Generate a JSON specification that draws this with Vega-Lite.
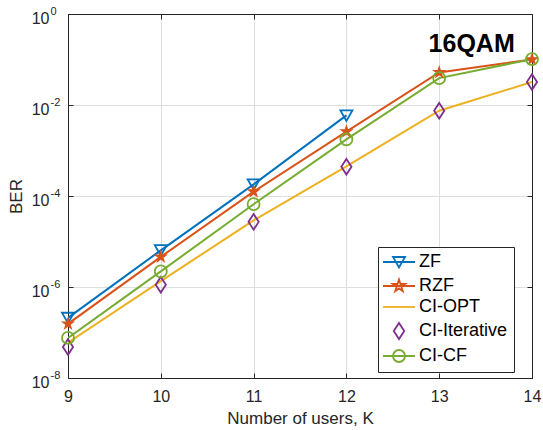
{
  "$schema": "https://vega.github.io/schema/vega-lite/v6.json",
  "autosize": "none",
  "width": 464,
  "height": 364,
  "padding": {"left": 68, "top": 14, "right": 11, "bottom": 52},
  "background": "white",
  "config": {
    "font": "Liberation Sans",
    "view": {"stroke": "#262626", "strokeWidth": 1},
    "axis": {
      "labelFont": "Liberation Sans",
      "titleFont": "Liberation Sans",
      "labelFontSize": 16,
      "titleFontSize": 17,
      "titleFontWeight": "normal",
      "labelColor": "#262626",
      "titleColor": "#262626",
      "domainColor": "#262626",
      "tickColor": "#262626",
      "gridColor": "#dedede",
      "gridWidth": 1
    }
  },
  "datasets": {
    "ber": [
      {"method": "ZF", "K": 9, "BER": 2.1e-7},
      {"method": "ZF", "K": 10, "BER": 6.4e-6},
      {"method": "ZF", "K": 11, "BER": 1.8e-4},
      {"method": "ZF", "K": 12, "BER": 5.9e-3},
      {"method": "RZF", "K": 9, "BER": 1.55e-7},
      {"method": "RZF", "K": 10, "BER": 4.6e-6},
      {"method": "RZF", "K": 11, "BER": 1.25e-4},
      {"method": "RZF", "K": 12, "BER": 2.6e-3},
      {"method": "RZF", "K": 13, "BER": 0.052},
      {"method": "RZF", "K": 14, "BER": 0.1},
      {"method": "CI-OPT", "K": 9, "BER": 6.0e-8},
      {"method": "CI-OPT", "K": 10, "BER": 1.35e-6},
      {"method": "CI-OPT", "K": 11, "BER": 2.9e-5},
      {"method": "CI-OPT", "K": 12, "BER": 4.5e-4},
      {"method": "CI-OPT", "K": 13, "BER": 7.5e-3},
      {"method": "CI-OPT", "K": 14, "BER": 0.032},
      {"method": "CI-Iterative", "K": 9, "BER": 4.8e-8},
      {"method": "CI-Iterative", "K": 10, "BER": 1.12e-6},
      {"method": "CI-Iterative", "K": 11, "BER": 2.7e-5},
      {"method": "CI-Iterative", "K": 12, "BER": 4.4e-4},
      {"method": "CI-Iterative", "K": 13, "BER": 7.5e-3},
      {"method": "CI-Iterative", "K": 14, "BER": 0.032},
      {"method": "CI-CF", "K": 9, "BER": 7.6e-8},
      {"method": "CI-CF", "K": 10, "BER": 2.2e-6},
      {"method": "CI-CF", "K": 11, "BER": 6.6e-5},
      {"method": "CI-CF", "K": 12, "BER": 1.75e-3},
      {"method": "CI-CF", "K": 13, "BER": 0.039},
      {"method": "CI-CF", "K": 14, "BER": 0.102}
    ],
    "note": [{"K": 13.35, "BER": 0.22, "label": "16QAM"}]
  },
  "data": {"name": "ber"},
  "resolve": {"axis": {"x": "independent", "y": "independent"}},
  "layer": [
    {
      "transform": [{"filter": "datum.method !== 'CI-Iterative'"}],
      "mark": {"type": "line", "strokeWidth": 2, "clip": true},
      "encoding": {
        "x": {"field": "K", "type": "quantitative", "scale": {"domain": [9, 14], "nice": false, "zero": false},
          "axis": {"values": [9, 10, 11, 12, 13, 14], "format": "d", "title": "Number of users, K", "grid": true, "tickSize": -5, "labelPadding": 15, "titlePadding": 6, "labelFlush": false}},
        "y": {"field": "BER", "type": "quantitative", "scale": {"type": "log", "domain": [1e-8, 1], "nice": false},
          "axis": {"values": [1e-8, 1e-6, 1e-4, 1e-2, 1], "title": "BER", "grid": true, "tickSize": -5, "labelPadding": 24, "labelOffset": 4, "titlePadding": 6,
            "labelExpr": "'10'"}},
        "color": {"field": "method", "type": "nominal",
          "scale": {"domain": ["ZF", "RZF", "CI-OPT", "CI-Iterative", "CI-CF"], "range": ["#0072BD", "#D95319", "#EDB120", "#7E2F8E", "#77AC30"]}},
        "detail": {"field": "method"}
      }
    },
    {
      "transform": [{"filter": "datum.method === 'ZF'"}],
      "mark": {"type": "point", "shape": "M-1,-0.85L1,-0.85L0,0.9Z", "size": 144, "filled": false, "strokeWidth": 1.8, "color": "#0072BD", "opacity": 1},
      "encoding": {
        "x": {"field": "K", "type": "quantitative", "axis": null},
        "y": {"field": "BER", "type": "quantitative", "axis": null}
      }
    },
    {
      "transform": [{"filter": "datum.method === 'RZF'"}],
      "mark": {"type": "point", "shape": "M0,-1.25L0.281,-0.386L1.189,-0.386L0.454,0.148L0.735,1.011L0,0.478L-0.735,1.011L-0.454,0.148L-1.189,-0.386L-0.281,-0.386Z", "size": 144, "filled": true, "strokeWidth": 1, "color": "#D95319", "opacity": 1},
      "encoding": {
        "x": {"field": "K", "type": "quantitative", "axis": null},
        "y": {"field": "BER", "type": "quantitative", "axis": null}
      }
    },
    {
      "transform": [{"filter": "datum.method === 'CI-Iterative'"}],
      "mark": {"type": "point", "shape": "M0,-1.3L0.85,0L0,1.3L-0.85,0Z", "size": 144, "filled": false, "strokeWidth": 1.8, "color": "#7E2F8E", "opacity": 1},
      "encoding": {
        "x": {"field": "K", "type": "quantitative", "axis": null},
        "y": {"field": "BER", "type": "quantitative", "axis": null}
      }
    },
    {
      "transform": [{"filter": "datum.method === 'CI-CF'"}],
      "mark": {"type": "point", "shape": "M-1,0A1,1 0 1,0 1,0A1,1 0 1,0 -1,0Z", "size": 144, "filled": false, "strokeWidth": 1.8, "color": "#77AC30", "opacity": 1},
      "encoding": {
        "x": {"field": "K", "type": "quantitative", "axis": null},
        "y": {"field": "BER", "type": "quantitative", "axis": null}
      }
    },
    {
      "data": {"name": "note"},
      "mark": {"type": "text", "font": "Liberation Sans", "fontSize": 25, "fontWeight": "bold", "align": "center", "baseline": "middle", "color": "#000000"},
      "encoding": {
        "x": {"field": "K", "type": "quantitative", "axis": null},
        "y": {"field": "BER", "type": "quantitative",
          "axis": {"orient": "left", "values": [1e-8, 1e-6, 1e-4, 1e-2, 1], "title": null, "grid": false, "ticks": false, "domain": false,
            "labelAlign": "left", "labelPadding": 18, "labelOffset": -3, "labelFontSize": 11,
            "labelExpr": "datum.value > 0.5 ? '0' : datum.value > 0.005 ? '-2' : datum.value > 0.00005 ? '-4' : datum.value > 0.0000005 ? '-6' : '-8'"}},
        "text": {"field": "label"}
      }
    },
    {
      "transform": [{"filter": "false"}],
      "mark": {"type": "point", "filled": false, "opacity": 1},
      "encoding": {
        "x": {"field": "K", "type": "quantitative",
          "axis": {"orient": "top", "values": [9, 10, 11, 12, 13, 14], "labels": false, "title": null, "grid": false, "tickSize": -5}},
        "y": {"field": "BER", "type": "quantitative",
          "axis": {"orient": "right", "values": [1e-8, 1e-6, 1e-4, 1e-2, 1], "labels": false, "title": null, "grid": false, "tickSize": -5}},
        "shape": {"field": "method", "type": "nominal",
          "scale": {"domain": ["ZF", "RZF", "CI-OPT", "CI-Iterative", "CI-CF"],
            "range": [
              "M-3.2,0H3.2M-1.2,-1L1.2,-1L0,1.1Z",
              "M-3.2,0H3.2M0,-1.3L0.292,-0.402L1.236,-0.402L0.472,0.154L0.764,1.052L0,0.497L-0.764,1.052L-0.472,0.154L-1.236,-0.402L-0.292,-0.402Z",
              "M-3.2,0H3.2",
              "M0,-1.6L1.05,0L0,1.6L-1.05,0Z",
              "M-3.2,0H3.2M-1.2,0A1.2,1.2 0 1,0 1.2,0A1.2,1.2 0 1,0 -1.2,0Z"
            ]},
          "legend": {
            "title": null,
            "orient": "none",
            "legendX": 310,
            "legendY": 233,
            "padding": 6,
            "strokeColor": "#262626",
            "fillColor": "white",
            "labelFont": "Liberation Sans",
            "labelFontSize": 18,
            "labelColor": "#000000",
            "symbolSize": 100,
            "symbolOffset": 6,
            "labelOffset": 11,
            "rowPadding": 3,
            "symbolStrokeWidth": 1.8,
            "symbolOpacity": 1,
            "encode": {
              "symbols": {
                "stroke": {"value": {"expr": "datum.value === 'ZF' ? '#0072BD' : datum.value === 'RZF' ? '#D95319' : datum.value === 'CI-OPT' ? '#EDB120' : datum.value === 'CI-Iterative' ? '#7E2F8E' : '#77AC30'"}},
                "fill": {"value": {"expr": "datum.value === 'RZF' ? '#D95319' : 'transparent'"}},
                "strokeWidth": {"value": 1.8},
                "opacity": {"value": 1}
              }
            }
          }
        }
      }
    }
  ]
}
